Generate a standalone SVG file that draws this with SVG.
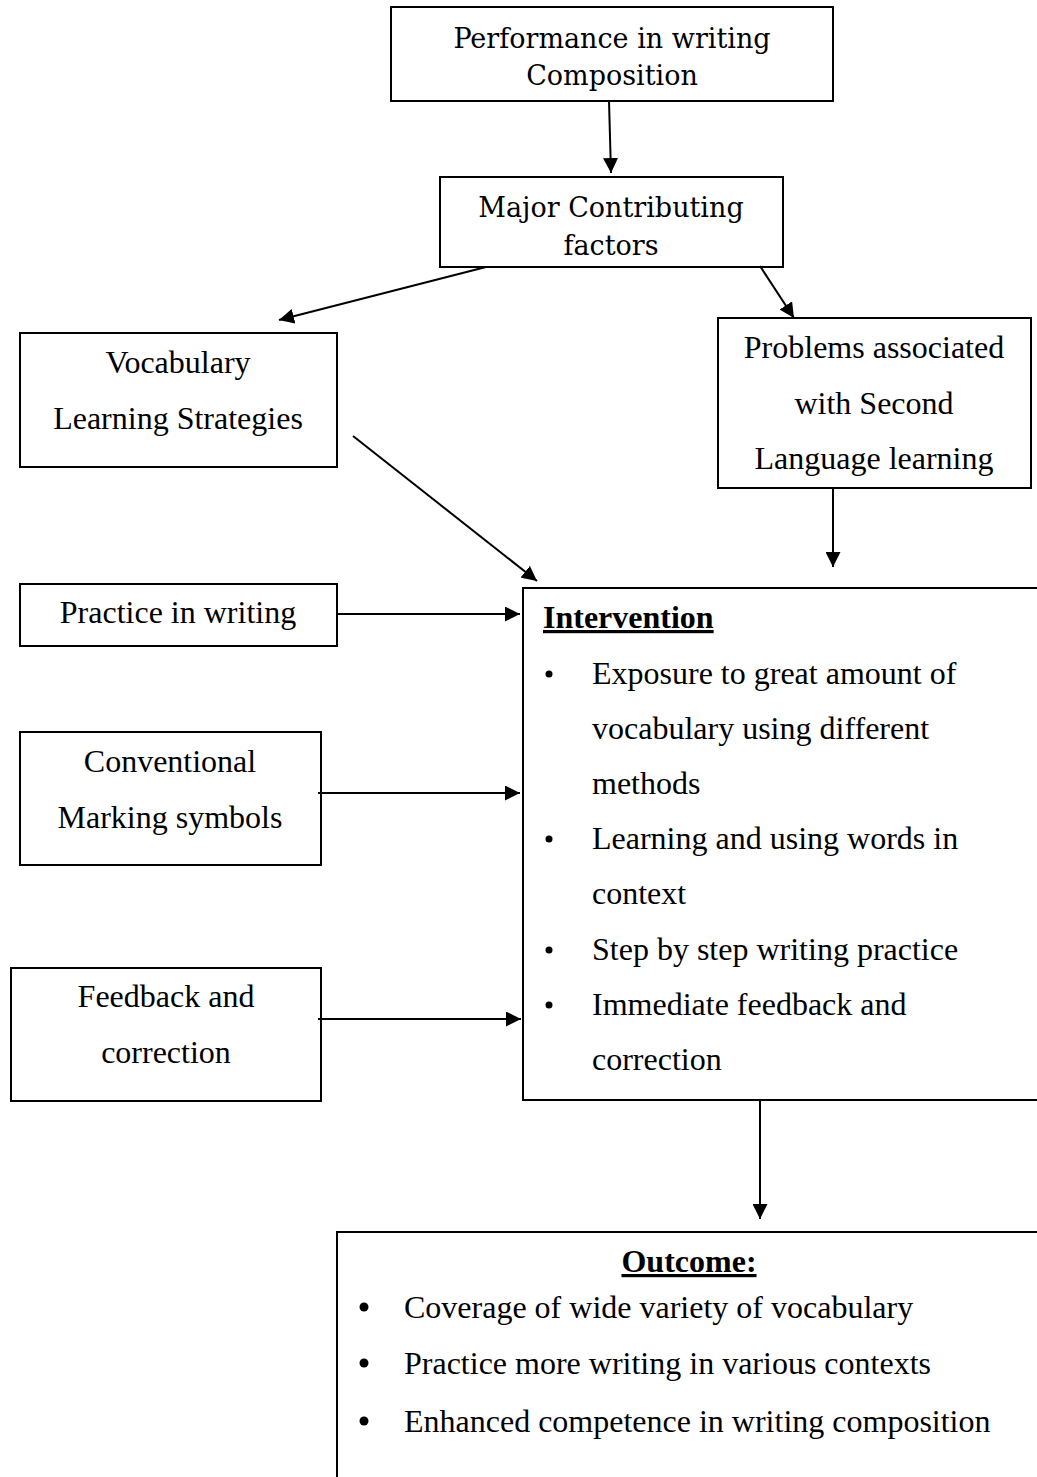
<svg xmlns="http://www.w3.org/2000/svg" width="1037" height="1477" viewBox="0 0 1037 1477">
<defs>
<marker id="ah" viewBox="0 0 15 15" refX="15" refY="7.5" markerWidth="15" markerHeight="15" markerUnits="userSpaceOnUse" orient="auto">
<path d="M0,0 L15,7.5 L0,15 Z" fill="#000"/>
</marker>
<style>
.box{fill:#fff;stroke:#000;stroke-width:2}
.cam{font-family:"DejaVu Serif","Liberation Serif",serif;font-size:27px;fill:#000;text-anchor:middle}
.tm{font-family:"Liberation Serif","Times New Roman",serif;font-size:32px;fill:#000}
.c{text-anchor:middle}
.b{font-weight:bold;text-decoration:underline}
.con{fill:none;stroke:#000;stroke-width:2;marker-end:url(#ah)}
.dot{fill:#000}
</style>
</defs>
<rect width="1037" height="1477" fill="#fff"/>
<g id="n-performance">
<rect class="box" x="391" y="7" width="442" height="94"/>
<text class="cam" x="612" y="48">Performance in writing</text>
<text class="cam" x="612" y="85">Composition</text>
</g>
<g id="n-major">
<rect class="box" x="440" y="177" width="343" height="90"/>
<text class="cam" x="611" y="217">Major Contributing</text>
<text class="cam" x="611" y="255">factors</text>
</g>
<g id="n-vocab">
<rect class="box" x="20" y="333" width="317" height="134"/>
<text class="tm c" x="178" y="373">Vocabulary</text>
<text class="tm c" x="178" y="429">Learning Strategies</text>
</g>
<g id="n-problems">
<rect class="box" x="718" y="318" width="313" height="170"/>
<text class="tm c" x="874" y="358">Problems associated</text>
<text class="tm c" x="874" y="414">with Second</text>
<text class="tm c" x="874" y="469">Language learning</text>
</g>
<g id="n-practice">
<rect class="box" x="20" y="584" width="317" height="62"/>
<text class="tm c" x="178" y="623">Practice in writing</text>
</g>
<g id="n-conventional">
<rect class="box" x="20" y="732" width="301" height="133"/>
<text class="tm c" x="170" y="772">Conventional</text>
<text class="tm c" x="170" y="828">Marking symbols</text>
</g>
<g id="n-feedback">
<rect class="box" x="11" y="968" width="310" height="133"/>
<text class="tm c" x="166" y="1007">Feedback and</text>
<text class="tm c" x="166" y="1063">correction</text>
</g>
<g id="n-intervention">
<rect class="box" x="523" y="588" width="530" height="512"/>
<text class="tm b" x="543" y="628" font-size="34">Intervention</text>
<circle class="dot" cx="549" cy="674" r="3.5"/>
<text class="tm" x="592" y="684">Exposure to great amount of</text>
<text class="tm" x="592" y="739">vocabulary using different</text>
<text class="tm" x="592" y="794">methods</text>
<circle class="dot" cx="549" cy="839" r="3.5"/>
<text class="tm" x="592" y="849">Learning and using words in</text>
<text class="tm" x="592" y="904">context</text>
<circle class="dot" cx="549" cy="950" r="3.5"/>
<text class="tm" x="592" y="960">Step by step writing practice</text>
<circle class="dot" cx="549" cy="1005" r="3.5"/>
<text class="tm" x="592" y="1015">Immediate feedback and</text>
<text class="tm" x="592" y="1070">correction</text>
</g>
<g id="n-outcome">
<rect class="box" x="337" y="1232" width="720" height="260"/>
<text class="tm b c" x="689" y="1272">Outcome:</text>
<circle class="dot" cx="364" cy="1307" r="4.5"/>
<text class="tm" x="404" y="1318">Coverage of wide variety of vocabulary</text>
<circle class="dot" cx="364" cy="1363" r="4.5"/>
<text class="tm" x="404" y="1374">Practice more writing in various contexts</text>
<circle class="dot" cx="364" cy="1421" r="4.5"/>
<text class="tm" x="404" y="1432">Enhanced competence in writing composition</text>
</g>
<g id="connectors">
<line class="con" x1="609" y1="101" x2="611" y2="173"/>
<line class="con" x1="486" y1="267" x2="279" y2="320"/>
<line class="con" x1="760" y1="266" x2="794" y2="318"/>
<line class="con" x1="353" y1="436" x2="537" y2="581"/>
<line class="con" x1="833" y1="488" x2="833" y2="567"/>
<line class="con" x1="337" y1="614" x2="520" y2="614"/>
<line class="con" x1="318" y1="793" x2="520" y2="793"/>
<line class="con" x1="318" y1="1019" x2="521" y2="1019"/>
<line class="con" x1="760" y1="1101" x2="760" y2="1219"/>
</g>
</svg>
